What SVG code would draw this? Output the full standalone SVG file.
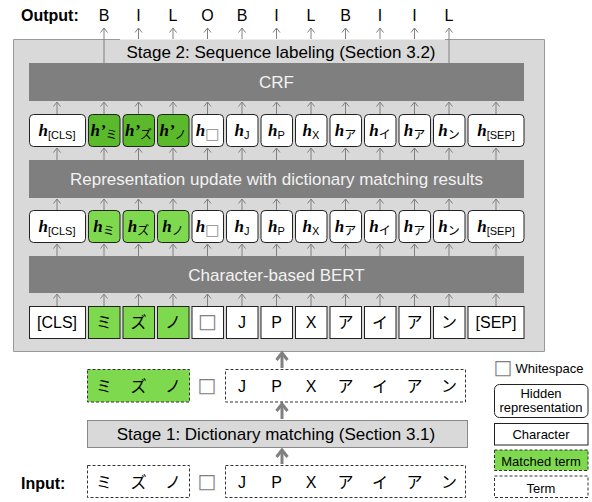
<svg xmlns="http://www.w3.org/2000/svg" width="592" height="502" viewBox="0 0 592 502">
<style>
.lbl{font-family:"Liberation Sans",Arial,sans-serif;font-size:16px;fill:#000;text-anchor:middle}
.bold{font-family:"Liberation Sans",Arial,sans-serif;font-size:16px;font-weight:bold;fill:#000}
.bar{fill:#7f7f7f}
.bartxt{font-family:"Liberation Sans",Arial,sans-serif;font-size:17px;fill:#f2f2f2;text-anchor:middle}
.stg{font-family:"Liberation Sans",Arial,sans-serif;font-size:17px;fill:#000;text-anchor:middle}
.jp{font-family:"Noto Sans CJK JP",sans-serif;font-size:16px;fill:#000;text-anchor:middle}
.ws{font-family:"DejaVu Sans",sans-serif;font-size:20px;fill:#808080;text-anchor:middle}
.hb{fill:#fff;stroke:#222;stroke-width:1}
.cb{fill:#fff;stroke:#222;stroke-width:1}
.g1{fill:#7fd94f}
.g2{fill:#5bb92c}
.dash{fill:none;stroke:#333;stroke-width:1;stroke-dasharray:3 2}
.hh{font-family:"Liberation Serif","Times New Roman",serif;font-size:17px;font-weight:bold;font-style:italic;text-anchor:middle}
.sub{font-family:"Liberation Sans",Arial,sans-serif;font-size:11px;font-weight:normal;font-style:normal}
.subj{font-family:"Noto Sans CJK JP",sans-serif;font-size:12px;font-weight:normal;font-style:normal}
.subw{font-family:"DejaVu Sans",sans-serif;font-size:15px;font-weight:normal;font-style:normal;fill:#8c8c8c}
.leg{font-family:"Liberation Sans",Arial,sans-serif;font-size:13px;fill:#000;text-anchor:middle}
.ar{stroke:#808080;stroke-width:1;fill:none;marker-end:url(#ah)}
.tar{stroke:#808080;stroke-width:3;fill:none;marker-end:url(#th)}
</style>
<defs>
<marker id="ah" markerUnits="userSpaceOnUse" viewBox="-6 -5 8 10" refX="0" refY="0" markerWidth="8" markerHeight="10" orient="auto" overflow="visible">
<path d="M-4.5,-3.5 L0,0 L-4.5,3.5" fill="none" stroke="#808080" stroke-width="1"/>
</marker>
<marker id="th" markerUnits="userSpaceOnUse" viewBox="-10 -8 12 16" refX="0" refY="0" markerWidth="12" markerHeight="16" orient="auto" overflow="visible">
<path d="M-7,-5.5 L0,0 L-7,5.5" fill="none" stroke="#808080" stroke-width="3" stroke-linejoin="miter"/>
</marker>
</defs>

<!-- Stage 2 container -->
<g id="stage2">
<rect x="13.5" y="39.5" width="531" height="312" fill="#d9d9d9"/>
<path d="M120,39.5 H13.5 V351.5 H544.5 V39.5 H445" fill="none" stroke="#999" stroke-width="1"/>
<text class="stg" x="281" y="58">Stage 2: Sequence labeling (Section 3.2)</text>
</g>

<!-- connectors -->
<g id="connectors">
<line class="ar" x1="104" y1="63" x2="104" y2="28"/>
<line class="ar" x1="138.5" y1="39" x2="138.5" y2="28"/>
<line class="ar" x1="173" y1="39" x2="173" y2="28"/>
<line class="ar" x1="207.5" y1="39" x2="207.5" y2="28"/>
<line class="ar" x1="242" y1="39" x2="242" y2="28"/>
<line class="ar" x1="276.5" y1="39" x2="276.5" y2="28"/>
<line class="ar" x1="311" y1="39" x2="311" y2="28"/>
<line class="ar" x1="345.5" y1="39" x2="345.5" y2="28"/>
<line class="ar" x1="380" y1="39" x2="380" y2="28"/>
<line class="ar" x1="414.5" y1="39" x2="414.5" y2="28"/>
<line class="ar" x1="449" y1="63" x2="449" y2="28"/>
<g>
<line class="ar" x1="57" y1="114" x2="57" y2="102"/>
<line class="ar" x1="104" y1="114" x2="104" y2="102"/>
<line class="ar" x1="138.5" y1="114" x2="138.5" y2="102"/>
<line class="ar" x1="173" y1="114" x2="173" y2="102"/>
<line class="ar" x1="207.5" y1="114" x2="207.5" y2="102"/>
<line class="ar" x1="242" y1="114" x2="242" y2="102"/>
<line class="ar" x1="276.5" y1="114" x2="276.5" y2="102"/>
<line class="ar" x1="311" y1="114" x2="311" y2="102"/>
<line class="ar" x1="345.5" y1="114" x2="345.5" y2="102"/>
<line class="ar" x1="380" y1="114" x2="380" y2="102"/>
<line class="ar" x1="414.5" y1="114" x2="414.5" y2="102"/>
<line class="ar" x1="449" y1="114" x2="449" y2="102"/>
<line class="ar" x1="496" y1="114" x2="496" y2="102"/>
</g>
<g>
<line class="ar" x1="57" y1="160" x2="57" y2="148"/>
<line class="ar" x1="104" y1="160" x2="104" y2="148"/>
<line class="ar" x1="138.5" y1="160" x2="138.5" y2="148"/>
<line class="ar" x1="173" y1="160" x2="173" y2="148"/>
<line class="ar" x1="207.5" y1="160" x2="207.5" y2="148"/>
<line class="ar" x1="242" y1="160" x2="242" y2="148"/>
<line class="ar" x1="276.5" y1="160" x2="276.5" y2="148"/>
<line class="ar" x1="311" y1="160" x2="311" y2="148"/>
<line class="ar" x1="345.5" y1="160" x2="345.5" y2="148"/>
<line class="ar" x1="380" y1="160" x2="380" y2="148"/>
<line class="ar" x1="414.5" y1="160" x2="414.5" y2="148"/>
<line class="ar" x1="449" y1="160" x2="449" y2="148"/>
<line class="ar" x1="496" y1="160" x2="496" y2="148"/>
</g>
<g>
<line class="ar" x1="57" y1="210" x2="57" y2="199"/>
<line class="ar" x1="104" y1="210" x2="104" y2="199"/>
<line class="ar" x1="138.5" y1="210" x2="138.5" y2="199"/>
<line class="ar" x1="173" y1="210" x2="173" y2="199"/>
<line class="ar" x1="207.5" y1="210" x2="207.5" y2="199"/>
<line class="ar" x1="242" y1="210" x2="242" y2="199"/>
<line class="ar" x1="276.5" y1="210" x2="276.5" y2="199"/>
<line class="ar" x1="311" y1="210" x2="311" y2="199"/>
<line class="ar" x1="345.5" y1="210" x2="345.5" y2="199"/>
<line class="ar" x1="380" y1="210" x2="380" y2="199"/>
<line class="ar" x1="414.5" y1="210" x2="414.5" y2="199"/>
<line class="ar" x1="449" y1="210" x2="449" y2="199"/>
<line class="ar" x1="496" y1="210" x2="496" y2="199"/>
</g>
<g>
<line class="ar" x1="57" y1="256" x2="57" y2="244"/>
<line class="ar" x1="104" y1="256" x2="104" y2="244"/>
<line class="ar" x1="138.5" y1="256" x2="138.5" y2="244"/>
<line class="ar" x1="173" y1="256" x2="173" y2="244"/>
<line class="ar" x1="207.5" y1="256" x2="207.5" y2="244"/>
<line class="ar" x1="242" y1="256" x2="242" y2="244"/>
<line class="ar" x1="276.5" y1="256" x2="276.5" y2="244"/>
<line class="ar" x1="311" y1="256" x2="311" y2="244"/>
<line class="ar" x1="345.5" y1="256" x2="345.5" y2="244"/>
<line class="ar" x1="380" y1="256" x2="380" y2="244"/>
<line class="ar" x1="414.5" y1="256" x2="414.5" y2="244"/>
<line class="ar" x1="449" y1="256" x2="449" y2="244"/>
<line class="ar" x1="496" y1="256" x2="496" y2="244"/>
</g>
<g>
<line class="ar" x1="57" y1="306" x2="57" y2="294"/>
<line class="ar" x1="104" y1="306" x2="104" y2="294"/>
<line class="ar" x1="138.5" y1="306" x2="138.5" y2="294"/>
<line class="ar" x1="173" y1="306" x2="173" y2="294"/>
<line class="ar" x1="207.5" y1="306" x2="207.5" y2="294"/>
<line class="ar" x1="242" y1="306" x2="242" y2="294"/>
<line class="ar" x1="276.5" y1="306" x2="276.5" y2="294"/>
<line class="ar" x1="311" y1="306" x2="311" y2="294"/>
<line class="ar" x1="345.5" y1="306" x2="345.5" y2="294"/>
<line class="ar" x1="380" y1="306" x2="380" y2="294"/>
<line class="ar" x1="414.5" y1="306" x2="414.5" y2="294"/>
<line class="ar" x1="449" y1="306" x2="449" y2="294"/>
<line class="ar" x1="496" y1="306" x2="496" y2="294"/>
</g>
<line class="tar" x1="282" y1="368" x2="282" y2="353"/>
<line class="tar" x1="282" y1="419" x2="282" y2="404"/>
<line class="tar" x1="282" y1="464" x2="282" y2="450"/>
</g>

<g id="output">
<text class="bold" x="21" y="21">Output:</text>
<text class="lbl" x="104" y="21">B</text>
<text class="lbl" x="138.5" y="21">I</text>
<text class="lbl" x="173" y="21">L</text>
<text class="lbl" x="207.5" y="21">O</text>
<text class="lbl" x="242" y="21">B</text>
<text class="lbl" x="276.5" y="21">I</text>
<text class="lbl" x="311" y="21">L</text>
<text class="lbl" x="345.5" y="21">B</text>
<text class="lbl" x="380" y="21">I</text>
<text class="lbl" x="414.5" y="21">I</text>
<text class="lbl" x="449" y="21">L</text>
</g>

<g id="crf">
<rect class="bar" x="29" y="63" width="495" height="38"/>
<text class="bartxt" x="276.5" y="88">CRF</text>
</g>

<g id="hidden2">
<rect class="hb" x="29.5" y="114.5" width="56" height="32" rx="4"/>
<text class="hh" x="57" y="136">h<tspan class="sub" dy="2.5">[CLS]</tspan></text>
<rect class="hb g2" x="88.5" y="114.5" width="31.5" height="32" rx="4"/>
<text class="hh" x="104" y="136">h’<tspan class="subj" dy="2.5">ミ</tspan></text>
<rect class="hb g2" x="123" y="114.5" width="31.5" height="32" rx="4"/>
<text class="hh" x="138.5" y="136">h’<tspan class="subj" dy="2.5">ズ</tspan></text>
<rect class="hb g2" x="157.5" y="114.5" width="31.5" height="32" rx="4"/>
<text class="hh" x="173" y="136">h’<tspan class="subj" dy="2.5">ノ</tspan></text>
<rect class="hb" x="192" y="114.5" width="31.5" height="32" rx="4"/>
<text class="hh" x="207.5" y="136">h<tspan class="subw" dy="2.5">□</tspan></text>
<rect class="hb" x="226.5" y="114.5" width="31.5" height="32" rx="4"/>
<text class="hh" x="242" y="136">h<tspan class="sub" dy="2.5">J</tspan></text>
<rect class="hb" x="261" y="114.5" width="31.5" height="32" rx="4"/>
<text class="hh" x="276.5" y="136">h<tspan class="sub" dy="2.5">P</tspan></text>
<rect class="hb" x="295.5" y="114.5" width="31.5" height="32" rx="4"/>
<text class="hh" x="311" y="136">h<tspan class="sub" dy="2.5">X</tspan></text>
<rect class="hb" x="330" y="114.5" width="31.5" height="32" rx="4"/>
<text class="hh" x="345.5" y="136">h<tspan class="subj" dy="2.5">ア</tspan></text>
<rect class="hb" x="364.5" y="114.5" width="31.5" height="32" rx="4"/>
<text class="hh" x="380" y="136">h<tspan class="subj" dy="2.5">イ</tspan></text>
<rect class="hb" x="399" y="114.5" width="31.5" height="32" rx="4"/>
<text class="hh" x="414.5" y="136">h<tspan class="subj" dy="2.5">ア</tspan></text>
<rect class="hb" x="433.5" y="114.5" width="31.5" height="32" rx="4"/>
<text class="hh" x="449" y="136">h<tspan class="subj" dy="2.5">ン</tspan></text>
<rect class="hb" x="468" y="114.5" width="56" height="32" rx="4"/>
<text class="hh" x="496" y="136">h<tspan class="sub" dy="2.5">[SEP]</tspan></text>
</g>

<g id="repupdate">
<rect class="bar" x="29" y="160" width="495" height="38"/>
<text class="bartxt" x="276.5" y="185">Representation update with dictionary matching results</text>
</g>

<g id="hidden1">
<rect class="hb" x="29.5" y="210.5" width="56" height="32" rx="4"/>
<text class="hh" x="57" y="232">h<tspan class="sub" dy="2.5">[CLS]</tspan></text>
<rect class="hb g1" x="88.5" y="210.5" width="31.5" height="32" rx="4"/>
<text class="hh" x="104" y="232">h<tspan class="subj" dy="2.5">ミ</tspan></text>
<rect class="hb g1" x="123" y="210.5" width="31.5" height="32" rx="4"/>
<text class="hh" x="138.5" y="232">h<tspan class="subj" dy="2.5">ズ</tspan></text>
<rect class="hb g1" x="157.5" y="210.5" width="31.5" height="32" rx="4"/>
<text class="hh" x="173" y="232">h<tspan class="subj" dy="2.5">ノ</tspan></text>
<rect class="hb" x="192" y="210.5" width="31.5" height="32" rx="4"/>
<text class="hh" x="207.5" y="232">h<tspan class="subw" dy="2.5">□</tspan></text>
<rect class="hb" x="226.5" y="210.5" width="31.5" height="32" rx="4"/>
<text class="hh" x="242" y="232">h<tspan class="sub" dy="2.5">J</tspan></text>
<rect class="hb" x="261" y="210.5" width="31.5" height="32" rx="4"/>
<text class="hh" x="276.5" y="232">h<tspan class="sub" dy="2.5">P</tspan></text>
<rect class="hb" x="295.5" y="210.5" width="31.5" height="32" rx="4"/>
<text class="hh" x="311" y="232">h<tspan class="sub" dy="2.5">X</tspan></text>
<rect class="hb" x="330" y="210.5" width="31.5" height="32" rx="4"/>
<text class="hh" x="345.5" y="232">h<tspan class="subj" dy="2.5">ア</tspan></text>
<rect class="hb" x="364.5" y="210.5" width="31.5" height="32" rx="4"/>
<text class="hh" x="380" y="232">h<tspan class="subj" dy="2.5">イ</tspan></text>
<rect class="hb" x="399" y="210.5" width="31.5" height="32" rx="4"/>
<text class="hh" x="414.5" y="232">h<tspan class="subj" dy="2.5">ア</tspan></text>
<rect class="hb" x="433.5" y="210.5" width="31.5" height="32" rx="4"/>
<text class="hh" x="449" y="232">h<tspan class="subj" dy="2.5">ン</tspan></text>
<rect class="hb" x="468" y="210.5" width="56" height="32" rx="4"/>
<text class="hh" x="496" y="232">h<tspan class="sub" dy="2.5">[SEP]</tspan></text>
</g>

<g id="bert">
<rect class="bar" x="29" y="256" width="495" height="37"/>
<text class="bartxt" x="276.5" y="281">Character-based BERT</text>
</g>

<g id="chars">
<rect class="cb" x="29.5" y="306.5" width="56" height="32"/>
<text class="lbl" x="57" y="328">[CLS]</text>
<rect class="cb g1" x="88.5" y="306.5" width="31.5" height="32"/>
<text class="jp" x="104" y="328">ミ</text>
<rect class="cb g1" x="123" y="306.5" width="31.5" height="32"/>
<text class="jp" x="138.5" y="328">ズ</text>
<rect class="cb g1" x="157.5" y="306.5" width="31.5" height="32"/>
<text class="jp" x="173" y="328">ノ</text>
<rect class="cb" x="192" y="306.5" width="31.5" height="32"/>
<text class="ws" x="207.5" y="328">□</text>
<rect class="cb" x="226.5" y="306.5" width="31.5" height="32"/>
<text class="lbl" x="242" y="328">J</text>
<rect class="cb" x="261" y="306.5" width="31.5" height="32"/>
<text class="lbl" x="276.5" y="328">P</text>
<rect class="cb" x="295.5" y="306.5" width="31.5" height="32"/>
<text class="lbl" x="311" y="328">X</text>
<rect class="cb" x="330" y="306.5" width="31.5" height="32"/>
<text class="jp" x="345.5" y="328">ア</text>
<rect class="cb" x="364.5" y="306.5" width="31.5" height="32"/>
<text class="jp" x="380" y="328">イ</text>
<rect class="cb" x="399" y="306.5" width="31.5" height="32"/>
<text class="jp" x="414.5" y="328">ア</text>
<rect class="cb" x="433.5" y="306.5" width="31.5" height="32"/>
<text class="jp" x="449" y="328">ン</text>
<rect class="cb" x="468" y="306.5" width="56" height="32"/>
<text class="lbl" x="496" y="328">[SEP]</text>
</g>

<g id="matched">
<rect class="dash" x="87.5" y="369.5" width="102" height="32.5" style="fill:#7fd94f"/>
<text class="jp" x="104" y="392">ミ</text>
<text class="jp" x="138.5" y="392">ズ</text>
<text class="jp" x="173" y="392">ノ</text>
<text class="ws" x="207" y="392">□</text>
<rect class="dash" x="225.5" y="369.5" width="240" height="32.5"/>
<text class="lbl" x="242" y="392">J</text>
<text class="lbl" x="276.5" y="392">P</text>
<text class="lbl" x="311" y="392">X</text>
<text class="jp" x="345.5" y="392">ア</text>
<text class="jp" x="380" y="392">イ</text>
<text class="jp" x="414.5" y="392">ア</text>
<text class="jp" x="449" y="392">ン</text>
</g>

<g id="stage1">
<rect x="87.5" y="420.5" width="380" height="27" fill="#d9d9d9" stroke="#888" stroke-width="1"/>
<text class="stg" x="276" y="440">Stage 1: Dictionary matching (Section 3.1)</text>
</g>

<g id="input">
<text class="bold" x="21" y="488.5">Input:</text>
<rect class="dash" x="87.5" y="465.5" width="102" height="32"/>
<text class="jp" x="104" y="488">ミ</text>
<text class="jp" x="138.5" y="488">ズ</text>
<text class="jp" x="173" y="488">ノ</text>
<text class="ws" x="207" y="487.5">□</text>
<rect class="dash" x="225.5" y="465.5" width="240" height="32"/>
<text class="lbl" x="242" y="488">J</text>
<text class="lbl" x="276.5" y="488">P</text>
<text class="lbl" x="311" y="488">X</text>
<text class="jp" x="345.5" y="488">ア</text>
<text class="jp" x="380" y="488">イ</text>
<text class="jp" x="414.5" y="488">ア</text>
<text class="jp" x="449" y="488">ン</text>
</g>

<g id="legend">
<text class="ws" x="503" y="374">□</text>
<text class="leg" x="549.5" y="372.5">Whitespace</text>
<rect class="hb" x="494.5" y="384.5" width="93.5" height="33" rx="5"/>
<text class="leg" x="541" y="397.5">Hidden</text>
<text class="leg" x="541" y="411.5">representation</text>
<rect class="cb" x="494.5" y="423.5" width="93.5" height="21.5"/>
<text class="leg" x="541" y="438.5">Character</text>
<rect class="dash" x="494.5" y="450" width="93.5" height="20.5" style="fill:#7fd94f"/>
<text class="leg" x="541" y="466">Matched term</text>
<rect class="dash" x="494.5" y="476" width="93.5" height="21.5"/>
<text class="leg" x="541" y="492.5">Term</text>
</g>
</svg>
